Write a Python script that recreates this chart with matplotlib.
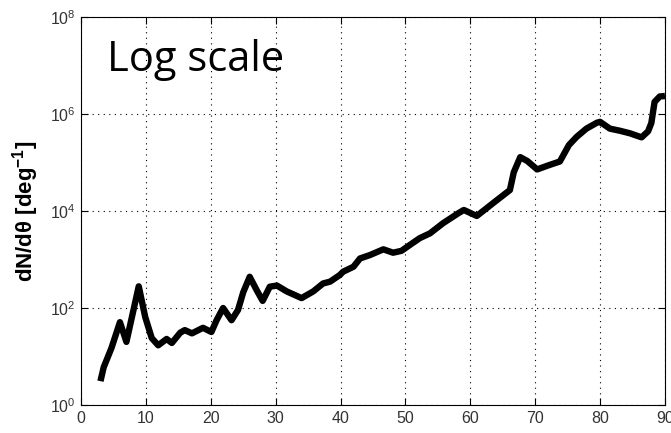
import matplotlib
matplotlib.use("Agg")
import matplotlib.pyplot as plt
import numpy as np
from matplotlib.ticker import FixedLocator, NullLocator

angle = [3.0, 3.5, 4.7, 6.0, 7.0, 8.9, 9.9, 10.9, 11.9, 13.2, 14.0, 15.3, 16.0, 17.1,
         18.8, 20.1, 20.9, 21.9, 23.2, 24.2, 25.0, 26.0, 27.1, 28.0, 29.1, 30.2, 31.7,
         34.0, 35.8, 37.3, 38.4, 39.9, 40.4, 42.0, 43.0, 44.5, 46.6, 48.1, 49.4, 50.7,
         52.2, 53.8, 55.8, 58.1, 59.0, 61.0, 63.5, 66.1, 66.7, 67.7, 68.8, 70.3, 72.0,
         73.8, 75.2, 76.4, 77.9, 79.5, 80.0, 81.5, 83.1, 84.6, 86.4, 87.4, 87.9, 88.4,
         89.2, 90.0]
dNdtheta = [3.1, 6.0, 15, 51, 20, 280, 65, 24, 17, 23, 19, 31, 35, 30,
            39, 32, 56, 100, 56, 91, 210, 440, 230, 140, 275, 290, 220,
            160, 220, 320, 350, 480, 560, 710, 1050, 1230, 1620, 1380, 1510, 2000,
            2750, 3470, 5600, 8900, 10500, 7900, 14500, 27000, 63000, 129000, 107000, 72000, 87000,
            105000, 229000, 339000, 500000, 660000, 690000, 500000, 450000, 400000, 330000, 440000, 650000, 1.78e6,
            2.3e6, 2.35e6]
xticks = [0, 10, 20, 30, 40, 50, 60, 70, 80, 90]
yticks = [1e0, 1e2, 1e4, 1e6, 1e8]
ytick_labels = [r"$10^{0}$", r"$10^{2}$", r"$10^{4}$", r"$10^{6}$", r"$10^{8}$"]

plt.rcParams["font.family"] = ["Liberation Sans", "DejaVu Sans"]
plt.rcParams["mathtext.default"] = "regular"

fig = plt.figure(figsize=(6.71, 4.33), dpi=100)
ax = fig.add_axes([0.1207, 0.0647, 0.8703, 0.896])
ax.plot(angle, dNdtheta, color="black", linewidth=4.6, solid_joinstyle="round",
        solid_capstyle="butt")
ax.set_yscale("log")
ax.set_xlim(0, 90)
ax.set_ylim(1, 1e8)
ax.xaxis.set_major_locator(FixedLocator(xticks))
ax.yaxis.set_major_locator(FixedLocator(yticks))
ax.yaxis.set_minor_locator(NullLocator())
ax.set_yticklabels(ytick_labels)
ax.tick_params(direction="in", top=True, right=True, length=5, width=0.8,
               labelsize=11.5, pad=4, colors="black")
ax.tick_params(axis="y", labelcolor="#333333")
ax.tick_params(axis="x", labelcolor="#333333")
ax.grid(True, which="major", color="black", linestyle=(0, (1, 4)), linewidth=0.8)
for s in ax.spines.values():
    s.set_linewidth(0.8)
ax.set_ylabel("dN/dθ [deg$^{-1}$]", fontsize=16, fontweight="bold", labelpad=6)
ax.text(0.045, 0.86, "Log scale", transform=ax.transAxes, fontsize=30,
        family="Open Sans", va="baseline", ha="left")
fig.savefig("out.png", dpi=100)
